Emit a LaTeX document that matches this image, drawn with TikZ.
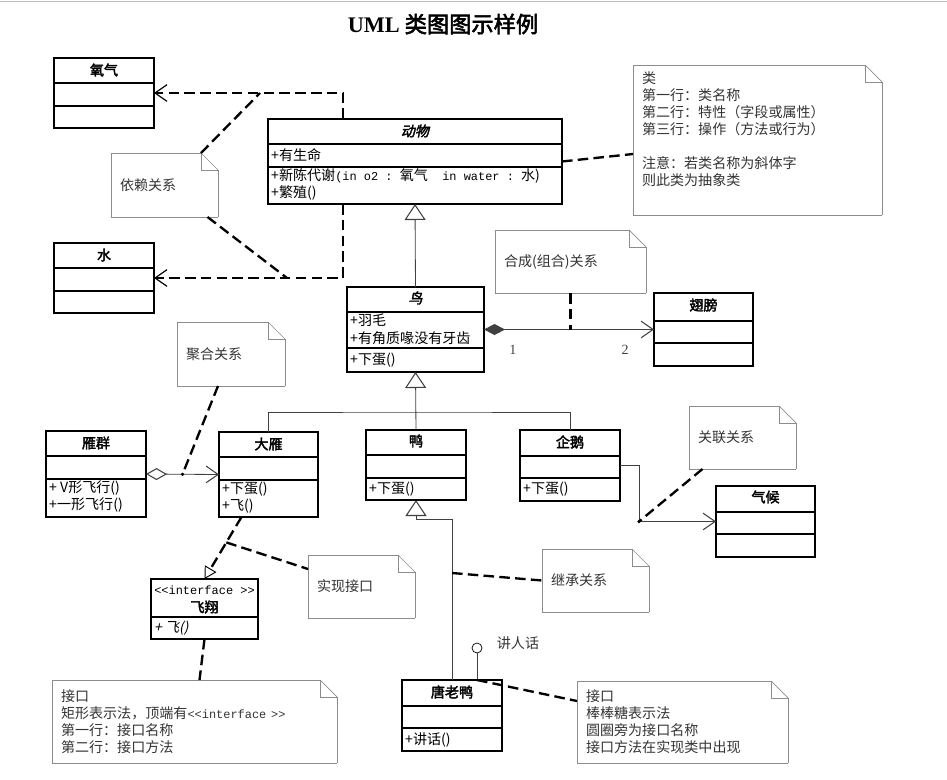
\documentclass[tikz,border=0pt]{standalone}
\usepackage{fontspec}
\setmainfont{Noto Sans CJK SC}[AutoFakeBold=2.5, AutoFakeSlant=0.2]
\setmonofont{Liberation Mono}[Scale=0.85]
\newfontfamily\titlelatin{Liberation Serif}
\usetikzlibrary{
    arrows.meta,
    positioning,
    calc,
    fit
}
\tikzset{
    % --- Class rectangle (fitted to its two corners) ---
    class box/.style = {
        draw, line width=1pt, inner sep=0pt, outer sep=0pt
    },
    % --- Compartment separator ---
    class line/.style = {
        line width=1pt
    },
    % --- Class name (bold) and abstract class name (bold italic) ---
    class name/.style = {
        font=\fontsize{12}{14}\selectfont\bfseries, inner sep=0pt
    },
    abstract name/.style = {
        font=\fontsize{12}{14}\selectfont\bfseries\itshape, inner sep=0pt
    },
    % --- Attribute / operation line ---
    member/.style = {
        font=\fontsize{12}{14}\selectfont, anchor=west, inner sep=0pt
    },
    % --- Note with folded corner ---
    note line/.style = {
        draw=black!45, line width=0.6pt
    },
    note box/.style = {
        anchor=north west, align=left, outer sep=0pt,
        inner xsep=0.27cm, inner ysep=1pt, text=black!80,
        font=\fontsize{12}{14.5}\selectfont,
        append after command={
            \pgfextra{\let\notenode\tikzlastnode}
            (\notenode.north west) edge[note line] ([xshift=-0.51cm]\notenode.north east)
            ([xshift=-0.51cm]\notenode.north east) edge[note line] ([yshift=-0.51cm]\notenode.north east)
            ([yshift=-0.51cm]\notenode.north east) edge[note line] (\notenode.south east)
            (\notenode.south east) edge[note line] (\notenode.south west)
            (\notenode.south west) edge[note line] (\notenode.north west)
            ([xshift=-0.51cm]\notenode.north east) edge[note line] ([xshift=-0.51cm,yshift=-0.51cm]\notenode.north east)
            ([xshift=-0.51cm,yshift=-0.51cm]\notenode.north east) edge[note line] ([yshift=-0.51cm]\notenode.north east)
        }
    },
    % --- Dashed link (notes, dependency, realization) ---
    note link/.style = {
        line width=2pt, dash pattern=on 9pt off 4.5pt
    },
    dep arrow/.style = {
        note link, -{Straight Barb[length=0.36cm, width=0.5cm, line width=1pt]}
    },
    realize arrow/.style = {
        note link, -{Triangle[open, length=0.36cm, width=0.4cm, line width=0.8pt]}
    },
    % --- Solid thin relations ---
    tree line/.style = {
        line width=0.7pt, black!75
    },
    inherit arrow/.style = {
        tree line, -{Triangle[open, length=0.48cm, width=0.63cm, line width=0.9pt]}
    },
    assoc arrow/.style = {
        tree line, -{Straight Barb[length=0.36cm, width=0.5cm, line width=0.9pt]}
    },
    compose arrow/.style = {
        tree line, {Diamond[length=0.63cm, width=0.33cm]}-{Straight Barb[length=0.36cm, width=0.5cm, line width=0.9pt]}
    },
    aggregate arrow/.style = {
        tree line, {Diamond[open, length=0.63cm, width=0.36cm, line width=0.9pt]}-{Straight Barb[length=0.36cm, width=0.5cm, line width=0.9pt]}
    },
    % --- Wire junction dot ---
    dot/.style = {
        circle, fill=black, inner sep=0pt, minimum size=3pt
    },
    % --- Lollipop interface ---
    lollipop/.style = {
        circle, draw, line width=0.6pt, fill=white, inner sep=0pt, minimum size=0.3cm
    },
    % --- Multiplicity and plain labels ---
    mult/.style = {
        font=\titlelatin\fontsize{12}{14}\selectfont, inner sep=1pt
    },
    plain label/.style = {
        font=\fontsize{12}{14}\selectfont, text=black!80, inner sep=0pt
    },
    diagram title/.style = {
        font=\fontsize{19}{22}\selectfont\bfseries
    }
}

\begin{document}
\begin{tikzpicture}[x=0.03cm, y=-0.03cm]

\useasboundingbox (0,0) rectangle (947,779);
\draw[black!25, line width=0.6pt] (0,1.5) -- (947,1.5);

% ---------------------------------------------------------
% Title
% ---------------------------------------------------------
\node[diagram title] (title) at (443,24) {{\titlelatin UML} 类图图示样例};

% ---------------------------------------------------------
% Classes
% ---------------------------------------------------------
% 氧气
\node[class box, fit={(54,58) (154,128)}] (yangqi) {};
\node[class name] (yangqi-name) at (104,70) {氧气};
\draw[class line] (yangqi.west |- 0,83) -- (yangqi.east |- 0,83);
\draw[class line] (yangqi.west |- 0,106) -- (yangqi.east |- 0,106);

% 水
\node[class box, fit={(54,243) (154,313)}] (shui) {};
\node[class name] (shui-name) at (104,255) {水};
\draw[class line] (shui.west |- 0,268) -- (shui.east |- 0,268);
\draw[class line] (shui.west |- 0,291) -- (shui.east |- 0,291);

% 动物 (abstract)
\node[class box, fit={(268,119) (562,204)}] (dongwu) {};
\node[abstract name] (dongwu-name) at (415,131) {动物};
\draw[class line] (dongwu.west |- 0,144) -- (dongwu.east |- 0,144);
\draw[class line] (dongwu.west |- 0,167) -- (dongwu.east |- 0,167);
\node[member] (dongwu-a1) at (271,155) {+有生命};
\node[member] (dongwu-o1) at (271,176) {+新陈代谢\texttt{(in o2 : }氧气\texttt{~~in water : }水)};
\node[member] (dongwu-o2) at (271,193) {+繁殖()};

% 鸟 (abstract)
\node[class box, fit={(347,287) (484,372)}] (niao) {};
\node[abstract name] (niao-name) at (415.5,298) {鸟};
\draw[class line] (niao.west |- 0,312) -- (niao.east |- 0,312);
\draw[class line] (niao.west |- 0,348) -- (niao.east |- 0,348);
\node[member] (niao-a1) at (350,320) {+羽毛};
\node[member] (niao-a2) at (350,338) {+有角质喙没有牙齿};
\node[member] (niao-o1) at (350,360) {+下蛋()};

% 翅膀
\node[class box, fit={(654,293) (753,366)}] (chibang) {};
\node[class name] (chibang-name) at (703.5,305) {翅膀};
\draw[class line] (chibang.west |- 0,321) -- (chibang.east |- 0,321);
\draw[class line] (chibang.west |- 0,343) -- (chibang.east |- 0,343);

% 雁群
\node[class box, fit={(46,431) (146,517)}] (yanqun) {};
\node[class name] (yanqun-name) at (96,443) {雁群};
\draw[class line] (yanqun.west |- 0,456) -- (yanqun.east |- 0,456);
\draw[class line] (yanqun.west |- 0,479) -- (yanqun.east |- 0,479);
\node[member] (yanqun-o1) at (49,488) {+ V形飞行()};
\node[member] (yanqun-o2) at (49,505) {+一形飞行()};

% 大雁
\node[class box, fit={(219,432) (318,517)}] (dayan) {};
\node[class name] (dayan-name) at (268.5,444) {大雁};
\draw[class line] (dayan.west |- 0,457) -- (dayan.east |- 0,457);
\draw[class line] (dayan.west |- 0,480) -- (dayan.east |- 0,480);
\node[member] (dayan-o1) at (222,489) {+下蛋()};
\node[member] (dayan-o2) at (222,506) {+飞()};

% 鸭
\node[class box, fit={(366,430) (466,500)}] (ya) {};
\node[class name] (ya-name) at (416,441) {鸭};
\draw[class line] (ya.west |- 0,455) -- (ya.east |- 0,455);
\draw[class line] (ya.west |- 0,478) -- (ya.east |- 0,478);
\node[member] (ya-o1) at (369,489) {+下蛋()};

% 企鹅
\node[class box, fit={(520,430) (620,501)}] (qie) {};
\node[class name] (qie-name) at (570,442) {企鹅};
\draw[class line] (qie.west |- 0,456) -- (qie.east |- 0,456);
\draw[class line] (qie.west |- 0,478) -- (qie.east |- 0,478);
\node[member] (qie-o1) at (523,489) {+下蛋()};

% 气候
\node[class box, fit={(716,486) (815,557)}] (qihou) {};
\node[class name] (qihou-name) at (765.5,497) {气候};
\draw[class line] (qihou.west |- 0,512) -- (qihou.east |- 0,512);
\draw[class line] (qihou.west |- 0,534) -- (qihou.east |- 0,534);

% 飞翔 (interface)
\node[class box, fit={(151,579) (258,639)}] (feixiang) {};
\node[member, anchor=center] (feixiang-st) at (204.5,590) {\texttt{<<interface >>}};
\node[class name] (feixiang-name) at (204.5,607) {飞翔};
\draw[class line] (feixiang.west |- 0,617) -- (feixiang.east |- 0,617);
\node[member] (feixiang-o1) at (154,628) {\itshape + 飞()};

% 唐老鸭
\node[class box, fit={(402,680) (502,751)}] (tang) {};
\node[class name] (tang-name) at (452,692) {唐老鸭};
\draw[class line] (tang.west |- 0,706) -- (tang.east |- 0,706);
\draw[class line] (tang.west |- 0,728) -- (tang.east |- 0,728);
\node[member] (tang-o1) at (405,740) {+讲话()};

% ---------------------------------------------------------
% Notes
% ---------------------------------------------------------
\node[note box, text width=2.67cm, minimum height=1.92cm] (yilai) at (111,153) {依赖关系};
\node[note box, text width=6.93cm, minimum height=4.5cm] (leinote) at (633,65) {%
    类\\
    第一行：类名称\\
    第二行：特性（字段或属性）\\
    第三行：操作（方法或行为）\\[14.5pt]
    注意：若类名称为斜体字\\
    则此类为抽象类\\
    \strut};
\node[note box, text width=3.99cm, minimum height=1.89cm] (hecheng) at (495,230) {合成(组合)关系};
\node[note box, text width=2.70cm, minimum height=1.92cm] (juhe) at (177,322) {聚合关系};
\node[note box, text width=2.67cm, minimum height=1.89cm] (guanlian) at (689,406) {关联关系};
\node[note box, text width=2.67cm, minimum height=1.89cm] (shixian) at (308,555) {实现接口};
\node[note box, text width=2.67cm, minimum height=1.89cm] (jicheng) at (542,549) {继承关系};
\node[note box, text width=8.01cm, minimum height=2.49cm] (jknote) at (52,680) {%
    接口\\
    矩形表示法，顶端有\texttt{<<interface >>}\\
    第一行：接口名称\\
    第二行：接口方法};
\node[note box, text width=5.79cm, minimum height=2.46cm] (bbnote) at (577,681) {%
    接口\\
    棒棒糖表示法\\
    圆圈旁为接口名称\\
    接口方法在实现类中出现};

% ---------------------------------------------------------
% Dependency
% ---------------------------------------------------------
\coordinate (depO2) at ($(yangqi.east)+(106,0)$);
\coordinate (depH2O) at ($(shui.east)+(133,0)$);
\draw[dep arrow] ($(dongwu.north)+(-72,0)$) |- (yangqi.east);
\draw[dep arrow] ($(dongwu.south)+(-72,0)$) |- (shui.east);
\draw[note link] ([xshift=-0.51cm]yilai.north east) -- (depO2);
\draw[note link] ($(yilai.south)+(43,0)$) -- (depH2O);

% class note
\draw[note link] (dongwu.east) -- ($(leinote.west)+(0,14)$);

% ---------------------------------------------------------
% Generalization
% ---------------------------------------------------------
\draw[inherit arrow] (niao.north) -- (dongwu.south);
\draw[inherit arrow] (ya.north) -- (niao.south);
\draw[tree line] (dayan.north) |- ($(niao.south)+(0,40)$) -| (qie.north);

% 唐老鸭 -> 鸭
\draw[inherit arrow] (tang.north) |- ($(ya.south)+(0,19)$) -- (ya.south);
\coordinate (inhpt) at ($(tang.north)+(0,-107)$);
\draw[note link] (inhpt) -- (jicheng.west);

% ---------------------------------------------------------
% Composition
% ---------------------------------------------------------
\draw[compose arrow] (niao.east) --
    node[mult, pos=0.17, below=0.42cm] (m1) {1}
    node[mult, pos=0.83, below=0.42cm] (m2) {2}
    (chibang.west);
\draw[note link] (hecheng.south) -- (hecheng.south |- niao.east);

% ---------------------------------------------------------
% Aggregation
% ---------------------------------------------------------
\draw[aggregate arrow] (yanqun.east) -- coordinate[pos=0.5] (aggpt) (dayan.west);
\node[dot] (aggdot) at (aggpt) {};
\draw[note link] ($(juhe.south)+(-13,0)$) -- (aggpt);

% ---------------------------------------------------------
% Association
% ---------------------------------------------------------
\coordinate (assocpt) at ($(qihou.west)+(-77,0)$);
\draw[assoc arrow] (qie.east) -| (assocpt) -- (qihou.west);
\node[dot] (assocdot) at (assocpt) {};
\draw[note link] ($(guanlian.south)+(-40,0)$) -- (assocpt);

% ---------------------------------------------------------
% Realization (interface)
% ---------------------------------------------------------
\draw[realize arrow] ($(dayan.south)+(-27,0)$) -- coordinate[pos=0.41] (realpt) (feixiang.north);
\draw[note link] (realpt) -- ($(shixian.north west)+(0,14)$);
\draw[note link] (feixiang.south) -- ($(jknote.north)+(5,0)$);

% ---------------------------------------------------------
% Lollipop interface
% ---------------------------------------------------------
\node[lollipop] (speak) at (477,648) {};
\node[plain label] (speak-label) at (518,643) {讲人话};
\draw[tree line] (speak.south) -- (speak.south |- tang.north);
\draw[note link] (speak.south |- tang.north) -- ($(bbnote.north west)+(0,20)$);

\end{tikzpicture}
\end{document}
